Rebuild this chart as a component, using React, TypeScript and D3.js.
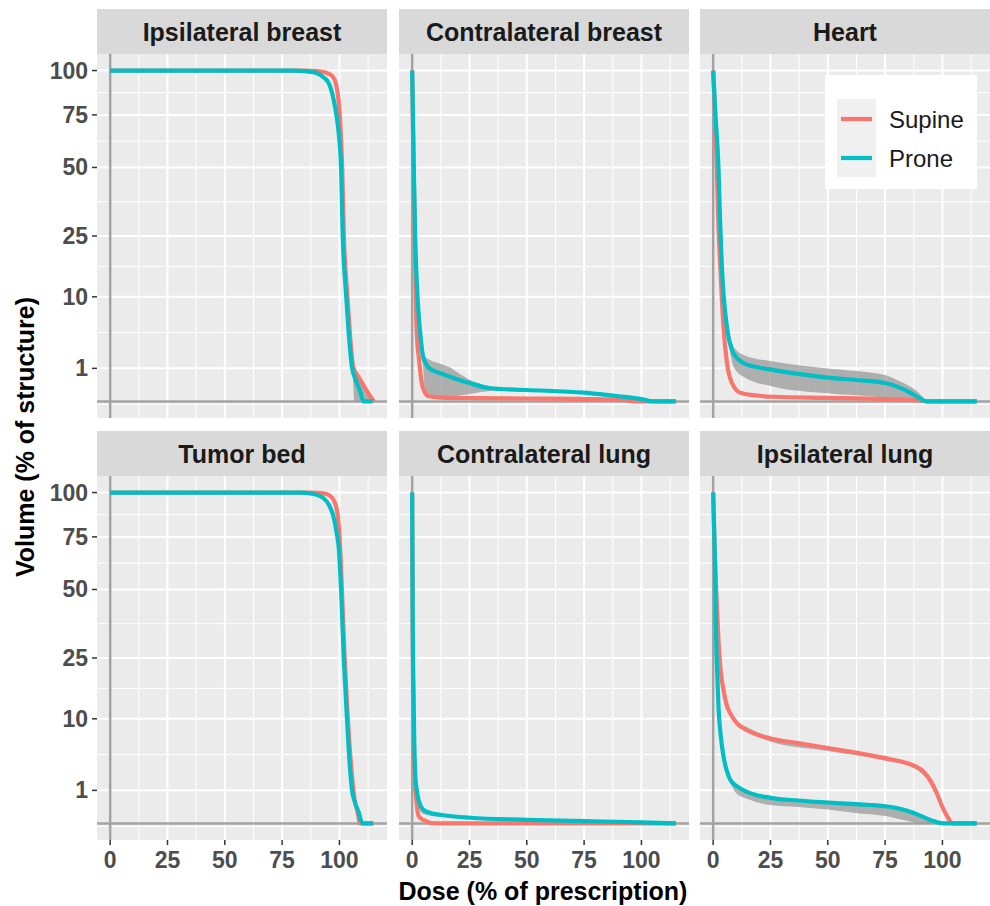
import * as d3 from "d3";

const panelTitles = [
  "Ipsilateral breast",
  "Contralateral breast",
  "Heart",
  "Tumor bed",
  "Contralateral lung",
  "Ipsilateral lung",
];
const seriesNames = ["Supine", "Prone"];
const seriesColors = ["#F8766D", "#00BFC4"];
const xTicks = [0, 25, 50, 75, 100];
const yTicks = [1, 10, 25, 50, 75, 100];

type Pt = [number, number]; // [dose, volume]
type Band = [number, number, number]; // [dose, lower, upper]

// --- mean DVH curves ---
const ipsiBreastSupine: Pt[] = [
  [0, 100], [85, 100], [90, 99.7], [94, 98.8], [97, 96.5], [98.5, 92], [99.5, 84],
  [100.3, 72], [101.2, 50], [101.9, 26], [103.4, 10.5], [104.5, 4.5], [106, 1.1],
  [108, 0.6], [110, 0.3], [112, 0.1], [114, 0.01], [115, 0],
];
const ipsiBreastProne: Pt[] = [
  [0, 100], [80, 100], [86, 99.5], [90, 98.5], [93, 96], [95.4, 92.4], [97.5, 83],
  [98.8, 74], [99.7, 65.6], [100.7, 50], [101.4, 26], [102.9, 10.5], [104, 4.5],
  [105.5, 1.05], [107, 0.45], [109, 0.1], [110.5, 0], [114.5, 0],
];
const contraBreastSupine: Pt[] = [
  [0, 100], [0.5, 55], [0.9, 37], [1.5, 12], [2, 4.3], [3, 1.6], [4.2, 0.3], [5.5, 0.08],
  [7, 0.025], [15, 0.012], [50, 0.008], [90, 0.003], [100, 0], [115, 0],
];
const contraBreastProne: Pt[] = [
  [0, 100], [0.4, 70], [0.8, 45], [1.3, 25], [2, 13], [2.8, 7], [3.5, 4.3], [4.8, 1.8],
  [5.7, 1.4], [7.5, 1.0], [12.2, 0.73], [19.5, 0.45], [25.3, 0.3], [34, 0.16],
  [50, 0.12], [75, 0.07], [90, 0.025], [100, 0.005], [105, 0], [115, 0],
];
const heartSupine: Pt[] = [
  [0, 100], [0.8, 75], [1.6, 50], [2.2, 30], [3.1, 16.5], [4.5, 5.1], [6, 1.35],
  [8.2, 0.31], [11.8, 0.07], [20, 0.03], [26, 0.02], [50, 0.012], [75, 0.005],
  [90, 0.001], [95, 0], [115, 0],
];
const heartProne: Pt[] = [
  [0, 100], [1, 75], [2.3, 50], [3, 30], [3.8, 16.5], [6, 5.1], [8.9, 2.1], [13.2, 1.35],
  [20, 1.05], [26.3, 0.9], [38, 0.68], [50, 0.52], [62, 0.42], [75, 0.31], [80.2, 0.2],
  [85, 0.09], [89, 0.02], [93.3, 0], [115, 0],
];
const tumorBedSupine: Pt[] = [
  [0, 100], [88, 100], [93, 99.5], [96, 98], [98, 94], [99.3, 86], [100.2, 72],
  [101, 52], [102.2, 26], [103.6, 10.5], [105.3, 2.5], [106.5, 0.6], [108, 0.1],
  [109, 0], [115, 0],
];
const tumorBedProne: Pt[] = [
  [0, 100], [83, 100], [88, 99.3], [93, 96.7], [95.5, 92.5], [97.4, 86], [98.8, 77],
  [99.8, 68], [100.7, 50], [101.9, 25], [103.3, 10], [104.4, 3.5], [105.5, 1],
  [106.8, 0.4], [108.5, 0.1], [110, 0], [114.5, 0],
];
const contraLungSupine: Pt[] = [
  [0, 100], [0.1, 60], [0.2, 35], [0.5, 12], [0.8, 4.5], [1.2, 1.5], [1.8, 0.5],
  [2.8, 0.05], [5, 0.01], [10, 0], [115, 0],
];
const contraLungProne: Pt[] = [
  [0, 100], [0.1, 70], [0.2, 45], [0.3, 30.8], [0.6, 15], [0.9, 6.4], [1.3, 2.3],
  [2, 1], [2.8, 0.5], [4.9, 0.17], [8, 0.1], [12.2, 0.07], [25.3, 0.03], [50, 0.012],
  [75, 0.005], [100, 0.001], [115, 0],
];
const ipsiLungSupine: Pt[] = [
  [0, 100], [0.6, 70], [1.3, 50], [2.3, 30.8], [3.3, 21], [4.5, 16.3], [5.8, 13],
  [7.4, 11.1], [10.3, 9.2], [15, 7.9], [25, 6.6], [37, 5.9], [50, 5.2], [62, 4.6],
  [75, 3.9], [82, 3.5], [88, 3.0], [92, 2.4], [95, 1.6], [97.7, 0.79], [100, 0.24],
  [102, 0.05], [104.5, 0], [115, 0],
];
const ipsiLungProne: Pt[] = [
  [0, 100], [0.5, 75], [0.9, 57], [1.3, 31], [1.8, 20], [2.3, 12.5], [3.3, 7],
  [4.5, 4.1], [6, 2.5], [7.4, 1.76], [10.3, 1.27], [15, 0.9], [25, 0.6], [37, 0.48],
  [50, 0.4], [62, 0.34], [75, 0.27], [80, 0.22], [85, 0.14], [90, 0.06], [95, 0.01],
  [100.3, 0], [115, 0],
];

// --- confidence bands ---
const ipsiBreastSupineBand: Band[] = [
  [104.5, 4.5, 4.6], [105.5, 1.5, 1.6], [106, 0.3, 1.15], [106.5, 0, 0.95], [108, 0, 0.6],
  [110, 0, 0.3], [112, 0, 0.1], [114, 0, 0.01],
];
const contraBreastProneBand: Band[] = [
  [3.5, 3.8, 4.8], [4.8, 1.0, 2.6], [5.7, 0.06, 1.84], [8, 0.03, 1.55], [12.2, 0.02, 1.3],
  [16.6, 0.02, 1.05], [20, 0.03, 0.75], [25.3, 0.05, 0.42], [30, 0.08, 0.28],
  [34, 0.1, 0.2], [40, 0.11, 0.16], [50, 0.11, 0.13],
];
const heartProneBand: Band[] = [
  [6, 4.5, 5.7], [8.9, 1.1, 2.76], [13.2, 0.56, 1.98], [26.3, 0.2, 1.45], [50, 0.06, 0.99],
  [75, 0.01, 0.64], [80.2, 0, 0.42], [89, 0, 0.09], [93.3, 0, 0],
];
const contraLungProneBand: Band[] = [
  [1.3, 1.8, 2.6], [2.8, 0.25, 0.6], [4.9, 0.08, 0.2], [12.2, 0.04, 0.08],
];
const ipsiLungSupineBand: Band[] = [
  [10.3, 8.6, 9.4], [25, 6.1, 6.8], [50, 4.8, 5.35], [75, 3.6, 4.0], [88, 2.75, 3.1],
  [95, 1.45, 1.7],
];
const ipsiLungProneBand: Band[] = [
  [7.4, 1.5, 1.85], [10.3, 0.8, 1.35], [15, 0.55, 0.95], [25, 0.31, 0.65], [37, 0.25, 0.52],
  [50, 0.18, 0.43], [62, 0.1, 0.37], [75, 0.05, 0.3], [85, 0.005, 0.16], [90, 0, 0.07],
  [95, 0, 0.01],
];

const curves: Pt[][][] = [
  [ipsiBreastSupine, ipsiBreastProne],
  [contraBreastSupine, contraBreastProne],
  [heartSupine, heartProne],
  [tumorBedSupine, tumorBedProne],
  [contraLungSupine, contraLungProne],
  [ipsiLungSupine, ipsiLungProne],
];
const bands: (Band[] | null)[][] = [
  [ipsiBreastSupineBand, null],
  [null, contraBreastProneBand],
  [null, heartProneBand],
  [null, null],
  [null, contraLungProneBand],
  [ipsiLungSupineBand, ipsiLungProneBand],
];

// layout
const W = 990;
const H = 906;
const colX = [97, 399, 700];
const rowTop = [9, 431];
const PW = 290;
const PH = 364;
const STRIP = 45;
const FONT = "'Liberation Sans', Arial, Helvetica, sans-serif";

const x = d3.scaleLinear().domain([-5.75, 120.75]).range([0, PW]);
const y = d3.scaleLinear().domain([-0.5, 10.5]).range([PH, 0]);
const ys = (v: number) => y(Math.sqrt(Math.max(0, v)));

// minor breaks like ggplot (midpoints in transformed space)
const minorOf = (b: number[], lim: [number, number]) => {
  const bd = b[1] - b[0];
  const ext = [b[0] - bd, ...b, b[b.length - 1] + bd];
  const out: number[] = [];
  for (let i = 0; i < ext.length - 1; i++) out.push((ext[i] + ext[i + 1]) / 2);
  return out.filter((v) => v >= lim[0] && v <= lim[1]);
};
const yMajor = yTicks.map(Math.sqrt);
const yMinor = minorOf(yMajor, [-0.5, 10.5]);
const xMinor = minorOf(xTicks, [-5.75, 120.75]);

const line = d3
  .line<Pt>()
  .x((d) => x(d[0]))
  .y((d) => ys(d[1]))
  .curve(d3.curveMonotoneX);
const area = d3
  .area<Band>()
  .x((d) => x(d[0]))
  .y0((d) => ys(d[1]))
  .y1((d) => ys(d[2]))
  .curve(d3.curveMonotoneX);

const Panel = ({ i }: { i: number }) => {
  const row = Math.floor(i / 3);
  const col = i % 3;
  const left = colX[col];
  const top = rowTop[row] + STRIP;
  return (
    <g>
      {/* strip */}
      <rect x={left} y={rowTop[row]} width={PW} height={STRIP} fill="#D9D9D9" />
      <text
        x={left + PW / 2}
        y={rowTop[row] + 32}
        textAnchor="middle"
        fontSize={25}
        fontWeight="bold"
        fill="#1A1A1A"
      >
        {panelTitles[i]}
      </text>
      <g transform={`translate(${left},${top})`}>
        <rect width={PW} height={PH} fill="#EBEBEB" />
        {yMinor.map((v, k) => (
          <line key={"ym" + k} x1={0} x2={PW} y1={y(v)} y2={y(v)} stroke="#fff" strokeWidth={1} />
        ))}
        {xMinor.map((v, k) => (
          <line key={"xm" + k} x1={x(v)} x2={x(v)} y1={0} y2={PH} stroke="#fff" strokeWidth={1} />
        ))}
        {yMajor.map((v, k) => (
          <line key={"yM" + k} x1={0} x2={PW} y1={y(v)} y2={y(v)} stroke="#fff" strokeWidth={2} />
        ))}
        {xTicks.map((v, k) => (
          <line key={"xM" + k} x1={x(v)} x2={x(v)} y1={0} y2={PH} stroke="#fff" strokeWidth={2} />
        ))}
        {/* reference lines at zero */}
        <line x1={0} x2={PW} y1={ys(0)} y2={ys(0)} stroke="#A3A3A3" strokeWidth={2.5} />
        <line x1={x(0)} x2={x(0)} y1={0} y2={PH} stroke="#A3A3A3" strokeWidth={2.5} />
        {bands[i].map((b, s) =>
          b ? <path key={"b" + s} d={area(b) || ""} fill="#9A9A9A" fillOpacity={0.75} /> : null
        )}
        {curves[i].map((c, s) => (
          <path
            key={"c" + s}
            d={line(c) || ""}
            fill="none"
            stroke={seriesColors[s]}
            strokeWidth={4.2}
            strokeLinejoin="round"
          />
        ))}
        {/* y axis */}
        {col === 0 &&
          yTicks.map((t) => (
            <g key={"yt" + t}>
              <line x1={-5} x2={0} y1={ys(t)} y2={ys(t)} stroke="#333" strokeWidth={1.5} />
              <text
                x={-9}
                y={ys(t) + 8}
                textAnchor="end"
                fontSize={23}
                fontWeight="bold"
                fill="#4D4D4D"
              >
                {t}
              </text>
            </g>
          ))}
        {/* x axis */}
        {row === 1 &&
          xTicks.map((t) => (
            <g key={"xt" + t}>
              <line x1={x(t)} x2={x(t)} y1={PH} y2={PH + 5} stroke="#333" strokeWidth={1.5} />
              <text
                x={x(t)}
                y={PH + 28}
                textAnchor="middle"
                fontSize={23}
                fontWeight="bold"
                fill="#4D4D4D"
              >
                {t}
              </text>
            </g>
          ))}
      </g>
    </g>
  );
};

const Legend = () => {
  const lx = 825;
  const ly = 75;
  return (
    <g>
      <rect x={lx} y={ly} width={152} height={114} fill="#fff" />
      <rect x={lx + 12} y={ly + 24} width={39} height={78} fill="#F0F0F0" />
      {seriesNames.map((n, k) => (
        <g key={n}>
          <line
            x1={lx + 16}
            x2={lx + 47}
            y1={ly + 44 + k * 39}
            y2={ly + 44 + k * 39}
            stroke={seriesColors[k]}
            strokeWidth={4.2}
          />
          <text x={lx + 64} y={ly + 53 + k * 39} fontSize={24} fill="#1A1A1A">
            {n}
          </text>
        </g>
      ))}
    </g>
  );
};

export default function App() {
  return (
    <svg
      width={W}
      height={H}
      style={{ position: "absolute", left: 0, top: 0, background: "#fff" }}
      fontFamily={FONT}
    >
      <rect width={W} height={H} fill="#fff" />
      {panelTitles.map((_, i) => (
        <Panel key={i} i={i} />
      ))}
      <Legend />
      <text
        transform={`translate(34,437) rotate(-90)`}
        textAnchor="middle"
        fontSize={25}
        fontWeight="bold"
        fill="#000"
      >
        Volume (% of structure)
      </text>
      <text x={543} y={900} textAnchor="middle" fontSize={25} fontWeight="bold" fill="#000">
        Dose (% of prescription)
      </text>
    </svg>
  );
}
